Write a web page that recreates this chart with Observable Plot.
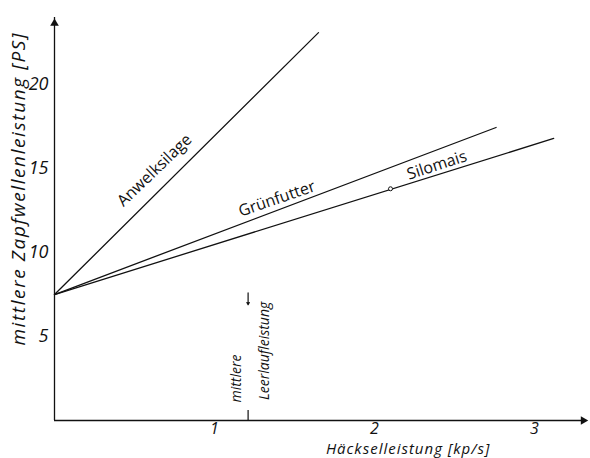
<!DOCTYPE html>
<html><head><meta charset="utf-8">
<script src="https://cdn.jsdelivr.net/npm/d3@7"></script>
<script src="https://cdn.jsdelivr.net/npm/@observablehq/plot@0.6"></script>
<style>body{margin:0;background:#fff} svg{display:block}</style>
</head><body><div id="chart"></div>
<script>
// Data
const series = ["Anwelksilage", "Grünfutter", "Silomais"];
const xStart = [0, 0, 0];
const yStart = [7.5, 7.5, 7.5];
const xEnd = [1.65, 2.76, 3.12];
const yEnd = [23.1, 17.45, 16.8];
const markX = [2.1];
const markY = [13.8];
const xTicks = [1, 2, 3];
const yTicks = [5, 10, 15, 20];
const idleX = [1.21];
const idleText = ["mittlere", "Leerlaufleistung"];
const xLabel = "Häckselleistung [kp/s]";
const yLabel = "mittlere Zapfwellenleistung [PS]";

// Layout of labels (positions in data units, angles in degrees)
const seriesLabelPos = [
  {x: 0.625, y: 14.9, rotate: -44},
  {x: 1.39, y: 13.2, rotate: -19},
  {x: 2.39, y: 15.2, rotate: -18}
];
const idleLabelPos = [
  {x: 1.14, y: 2.5},
  {x: 1.31, y: 4.15}
];

const lines = series.flatMap((s, i) => [
  {s, x: xStart[i], y: yStart[i]},
  {s, x: xEnd[i], y: yEnd[i]}
]);
const seriesLabels = series.map((s, i) => ({text: s, ...seriesLabelPos[i]}));
const idleLabels = idleText.map((t, i) => ({text: t, ...idleLabelPos[i]}));
const marks = markX.map((x, i) => ({x, y: markY[i]}));

const xMax = 3.3, yMax = 24;
const fmt = d3.format("d");

const chart = Plot.plot({
  width: 590, height: 458,
  marginLeft: 54, marginRight: 8, marginTop: 17, marginBottom: 38,
  x: {domain: [0, xMax]},
  y: {domain: [0, yMax]},
  style: {fontFamily: "'Open Sans', 'DejaVu Sans', sans-serif", background: "#fff", color: "#111"},
  marks: [
    // axes lines with arrowheads
    Plot.ruleY([0], {x1: 0, x2: xMax + 0.015, stroke: "#111", strokeWidth: 1.3}),
    Plot.ruleX([0], {y1: 0, y2: yMax, stroke: "#111", strokeWidth: 1.3}),
    Plot.dot([{x: xMax + 0.005, y: 0}], {x: "x", y: "y", symbol: "triangle", r: 3.2, fill: "#111", stroke: "none", rotate: 90}),
    Plot.dot([{x: 0, y: yMax - 0.35}], {x: "x", y: "y", symbol: "triangle", r: 3.2, fill: "#111", stroke: "none"}),
    Plot.axisX(xTicks, {tickSize: 0, tickPadding: 2, fontSize: 16, fontStyle: "italic", tickFormat: fmt, label: null}),
    Plot.axisY(yTicks, {tickSize: 0, tickPadding: 6, fontSize: 18, fontStyle: "italic", tickFormat: fmt, label: null}),
    // series
    Plot.line(lines, {x: "x", y: "y", z: "s", stroke: "#111", strokeWidth: 1.3}),
    Plot.dot(marks, {x: "x", y: "y", r: 2, stroke: "#111", fill: "#fff", strokeWidth: 1}),
    Plot.text(seriesLabels, {x: "x", y: "y", text: "text", rotate: "rotate", fontSize: 16, fill: "#111"}),
    // idle power marker
    Plot.ruleX(idleX, {y1: 0, y2: 0.6, stroke: "#111", strokeWidth: 1.2}),
    Plot.arrow(idleX, {x1: d => d, x2: d => d, y1: 7.6, y2: 6.9, stroke: "#111", strokeWidth: 1.2, headLength: 3}),
    Plot.text(idleLabels, {x: "x", y: "y", text: "text", rotate: -90, fontSize: 14, fontStyle: "italic", fill: "#111"}),
    // axis titles
    Plot.text([xLabel], {x: 2.21, frameAnchor: "bottom", dy: 33, text: d => d, fontSize: 15, fontStyle: "italic", fill: "#111"}),
    Plot.text([yLabel], {x: -0.225, y: 13.8, text: d => d, rotate: -90, fontSize: 19, fontStyle: "italic", fill: "#111"})
  ]
});
// wider spacing as in the stencil lettering of the original
d3.select(chart).selectAll("text").each(function() {
  const t = this.textContent;
  if (t === xLabel) this.setAttribute("letter-spacing", "1");
  if (t === yLabel) this.setAttribute("letter-spacing", "1.6");
});
document.getElementById("chart").append(chart);
</script>
</body></html>
